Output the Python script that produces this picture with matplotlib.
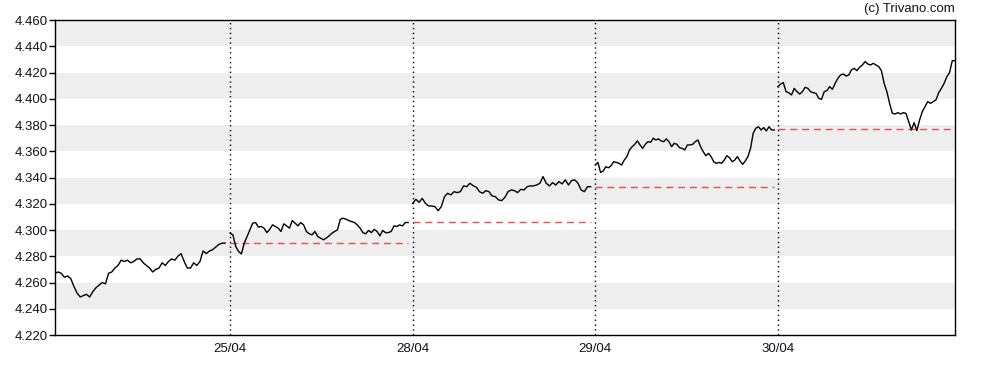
import numpy as np
import matplotlib.pyplot as plt

plt.rcParams['font.family'] = ['Liberation Sans', 'DejaVu Sans']

# intraday prices, one list per trading day
day1 = [4.267, 4.268, 4.267, 4.264, 4.265, 4.263, 4.257, 4.252, 4.249, 4.250,
        4.251, 4.249, 4.253, 4.256, 4.258, 4.260, 4.259, 4.267, 4.268, 4.271,
        4.273, 4.277, 4.276, 4.277, 4.275, 4.276, 4.278, 4.278, 4.275, 4.273,
        4.271, 4.268, 4.270, 4.271, 4.275, 4.273, 4.276, 4.278, 4.277, 4.280,
        4.282, 4.276, 4.271, 4.271, 4.275, 4.273, 4.276, 4.284, 4.282, 4.284,
        4.285, 4.287, 4.289, 4.290, 4.290]
day2 = [4.2975, 4.2963, 4.2874, 4.2836, 4.2818, 4.2900, 4.2950, 4.3001, 4.3052, 4.3057,
        4.3022, 4.3027, 4.3014, 4.2980, 4.3005, 4.3039, 4.3027, 4.3014, 4.2989, 4.3047,
        4.3031, 4.3014, 4.3072, 4.3052, 4.3031, 4.3057, 4.3039, 4.2989, 4.2971, 4.2963,
        4.2989, 4.2950, 4.2938, 4.2925, 4.2938, 4.2955, 4.2975, 4.2989, 4.3001, 4.3082,
        4.3090, 4.3082, 4.3072, 4.3064, 4.3057, 4.3039, 4.3014, 4.2980, 4.2971, 4.2997,
        4.2980, 4.3005, 4.2989, 4.2955, 4.2997, 4.2980, 4.2980, 4.2989, 4.3031, 4.3027,
        4.3039, 4.3031, 4.3057, 4.3057]
day3 = [4.3203, 4.3234, 4.3211, 4.3241, 4.3203, 4.3183, 4.3183, 4.3178, 4.3147, 4.3178,
        4.3254, 4.3280, 4.3267, 4.3292, 4.3285, 4.3292, 4.3336, 4.3330, 4.3356, 4.3338,
        4.3326, 4.3292, 4.3280, 4.3300, 4.3292, 4.3259, 4.3254, 4.3229, 4.3224, 4.3249,
        4.3292, 4.3305, 4.3300, 4.3285, 4.3310, 4.3305, 4.3330, 4.3336, 4.3336, 4.3343,
        4.3356, 4.3407, 4.3356, 4.3336, 4.3361, 4.3343, 4.3369, 4.3351, 4.3382, 4.3343,
        4.3377, 4.3382, 4.3356, 4.3305, 4.3292, 4.3330, 4.3330]
day4 = [4.3495, 4.3515, 4.3439, 4.3449, 4.3482, 4.3474, 4.3490, 4.3520, 4.3515, 4.3508,
        4.3495, 4.3533, 4.3559, 4.3610, 4.3635, 4.3653, 4.3679, 4.3648, 4.3622, 4.3653,
        4.3673, 4.3668, 4.3699, 4.3686, 4.3694, 4.3679, 4.3673, 4.3694, 4.3673, 4.3635,
        4.3660, 4.3653, 4.3627, 4.3622, 4.3610, 4.3648, 4.3648, 4.3653, 4.3673, 4.3686,
        4.3635, 4.3597, 4.3566, 4.3584, 4.3559, 4.3520, 4.3508, 4.3515, 4.3508, 4.3533,
        4.3566, 4.3551, 4.3520, 4.3533, 4.3559, 4.3526, 4.3500, 4.3526, 4.3559, 4.3622,
        4.3737, 4.3775, 4.3787, 4.3762, 4.3780, 4.3755, 4.3787, 4.3762, 4.3762]
day5 = [4.4092, 4.4112, 4.4123, 4.4054, 4.4046, 4.4029, 4.4079, 4.4054, 4.4036, 4.4054,
        4.4087, 4.4079, 4.4054, 4.4046, 4.4041, 4.4003, 4.3995, 4.4054, 4.4062, 4.4092,
        4.4072, 4.4117, 4.4155, 4.4181, 4.4189, 4.4173, 4.4181, 4.4219, 4.4232, 4.4214,
        4.4240, 4.4257, 4.4283, 4.4265, 4.4257, 4.4270, 4.4257, 4.4245, 4.4214, 4.4117,
        4.4054, 4.3965, 4.3889, 4.3884, 4.3894, 4.3884, 4.3894, 4.3889, 4.3826, 4.3762,
        4.3818, 4.3757, 4.3838, 4.3902, 4.3940, 4.3978, 4.3965, 4.3978, 4.3991, 4.4046,
        4.4079, 4.4117, 4.4168, 4.4199, 4.4290, 4.4290]
days = [day1, day2, day3, day4, day5]

# previous close reference for each day (day 1 has none)
prev_close = [None, 4.290, 4.306, 4.333, 4.377]
day_labels = ['', '25/04', '28/04', '29/04', '30/04']

# session start of each day in day units, first day is cut by the left edge
x_left = 0.041
session_start = [x_left, 1, 2, 3, 4]
session_end = [0.973, 1.975, 2.975, 3.98, 4.97]

fig = plt.figure(figsize=(9.88, 3.70), dpi=100)
ax = fig.add_axes([55/988, 1-335/370, 900/988, 315/370])

ymin, ymax = 4.220, 4.460
# grey bands
for lo in np.arange(4.240, ymax, 0.040):
    ax.axhspan(lo, lo + 0.020, color='#eeeeee', lw=0, zorder=0)

for d in range(1, 5):
    ax.axvline(d, color='black', ls=(0, (1, 2.5)), lw=1, zorder=1)

for i, vals in enumerate(days):
    x = np.linspace(session_start[i], session_end[i], len(vals))
    ax.plot(x, vals, color='black', lw=1.0, zorder=3)
    if prev_close[i] is not None:
        ax.hlines(prev_close[i], session_start[i], session_end[i],
                  colors='#ee3030', alpha=0.85, linestyles=(0, (5, 3.5)), lw=1, zorder=2)

ax.set_xlim(x_left, 4.97)
ax.set_ylim(ymin, ymax)
yt = np.arange(ymin, ymax + 0.001, 0.020)
ax.set_yticks(yt)
ax.set_yticklabels(['%.3f' % v for v in yt])
ax.set_xticks([1, 2, 3, 4])
ax.set_xticklabels(day_labels[1:])
ax.tick_params(axis='y', length=4, width=1, labelsize=9.5, pad=1, labelcolor='#111122')
ax.tick_params(axis='x', length=0, labelsize=9.5, pad=6, labelcolor='#111122')
for s in ax.spines.values():
    s.set_color('black')
    s.set_linewidth(1)

fig.text(955/988, 1-9/370, '(c) Trivano.com', ha='right', va='center',
         fontsize=9.5, color='#111122')

fig.savefig('out.png', dpi=100)
